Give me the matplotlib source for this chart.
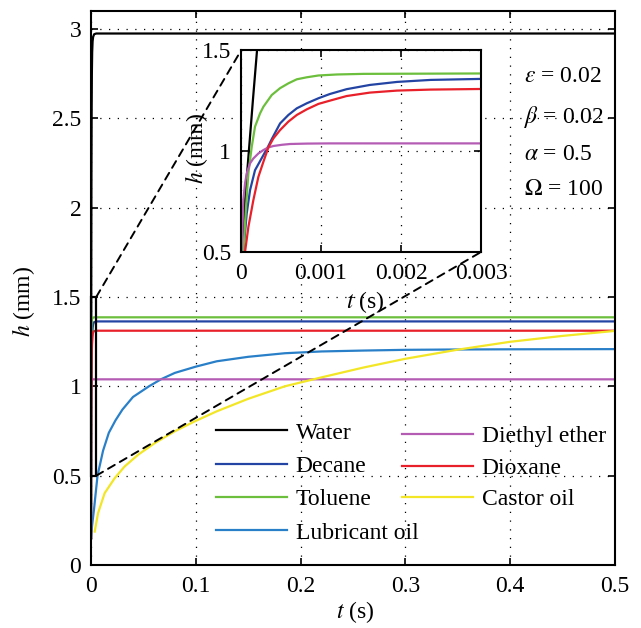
import matplotlib
matplotlib.use("Agg")
import matplotlib.pyplot as plt
from matplotlib.patches import Rectangle, ConnectionPatch

plt.rcParams["font.family"] = "Liberation Serif"
plt.rcParams["mathtext.fontset"] = "stix"
plt.rcParams["font.size"] = 17

# meniscus height h (mm) against time t (s) for each liquid
water_t = [0, 0.00001, 0.00005, 0.0001, 0.00015, 0.0002, 0.0003, 0.0004, 0.0006, 0.0008, 0.0011, 0.0015, 0.002, 0.003, 0.005, 0.5]
water_h = [0.15, 0.5, 0.76, 1.01, 1.26, 1.5, 1.9, 2.2, 2.55, 2.75, 2.87, 2.93, 2.955, 2.97, 2.974, 2.974]

decane_t = [0, 0.000029, 0.000071, 0.000113, 0.000175, 0.00028, 0.000342, 0.000384, 0.000488, 0.000592, 0.000697,
            0.000822, 0.000968, 0.00111, 0.00132, 0.00161, 0.00195, 0.00237, 0.003, 0.006, 0.5]
decane_h = [0.15, 0.5, 0.691, 0.807, 0.906, 0.981, 1.026, 1.06, 1.138, 1.18, 1.213,
            1.238, 1.263, 1.284, 1.308, 1.329, 1.344, 1.354, 1.359, 1.363, 1.363]

toluene_t = [0, 0.000029, 0.000063, 0.000092, 0.000134, 0.000175, 0.000238, 0.00028, 0.000384, 0.000488, 0.000592,
             0.000697, 0.000822, 0.000968, 0.0012, 0.00153, 0.003, 0.5]
toluene_h = [0.15, 0.5, 0.724, 0.891, 1.022, 1.122, 1.188, 1.221, 1.279, 1.313, 1.337,
             1.357, 1.367, 1.376, 1.381, 1.384, 1.386, 1.386]

lubricant_t = [0, 0.001, 0.003, 0.0062, 0.0115, 0.017, 0.0234, 0.03, 0.04, 0.0553, 0.067, 0.08,
               0.1, 0.12, 0.15, 0.185, 0.22, 0.26, 0.3, 0.35, 0.4, 0.5]
lubricant_h = [0.15, 0.22, 0.32, 0.5, 0.64, 0.74, 0.81, 0.87, 0.94, 1.0, 1.04, 1.075,
               1.11, 1.14, 1.165, 1.185, 1.195, 1.2, 1.204, 1.206, 1.207, 1.208]

ether_t = [0, 0.0000083, 0.000029, 0.00005, 0.000071, 0.000113, 0.000154, 0.000217, 0.00028, 0.000342,
           0.000405, 0.000509, 0.000613, 0.000822, 0.00111, 0.5]
ether_h = [0.15, 0.5, 0.757, 0.84, 0.89, 0.94, 0.964, 0.989, 1.006, 1.019,
           1.026, 1.032, 1.036, 1.038, 1.039, 1.039]

dioxane_t = [0, 0.00005, 0.000092, 0.000154, 0.000217, 0.00028, 0.000342, 0.000405, 0.000488, 0.000592, 0.000697,
             0.000822, 0.000968, 0.00111, 0.00132, 0.00161, 0.00195, 0.00237, 0.003, 0.006, 0.5]
dioxane_h = [0.15, 0.5, 0.624, 0.757, 0.873, 0.948, 1.019, 1.064, 1.105, 1.147, 1.18,
             1.208, 1.235, 1.251, 1.274, 1.291, 1.301, 1.306, 1.309, 1.311, 1.311]

castor_t = [0.0035, 0.0067, 0.013, 0.0226, 0.032, 0.0449, 0.0608, 0.0798, 0.099, 0.12, 0.15, 0.185,
            0.22, 0.26, 0.3, 0.35, 0.4, 0.45, 0.5]
castor_h = [0.187, 0.29, 0.402, 0.486, 0.551, 0.617, 0.682, 0.748, 0.804, 0.86, 0.93, 1.0,
            1.05, 1.105, 1.154, 1.205, 1.249, 1.282, 1.31]

series = [
    ("Water", water_t, water_h, "#000000"),
    ("Decane", decane_t, decane_h, "#2444a4"),
    ("Toluene", toluene_t, toluene_h, "#6cbf3c"),
    ("Lubricant oil", lubricant_t, lubricant_h, "#2a80c8"),
    ("Diethyl ether", ether_t, ether_h, "#b45cb4"),
    ("Dioxane", dioxane_t, dioxane_h, "#e8202a"),
    ("Castor oil", castor_t, castor_h, "#f2e626"),
]

params = [r"$\varepsilon$ = 0.02", r"$\beta$ = 0.02", r"$\alpha$ = 0.5", r"$\Omega$ = 100"]
params_y = [0.8774, 0.8137, 0.7532, 0.6975]

grid_style = dict(linestyle=(0, (1, 6)), color="k", linewidth=0.9)


def style_axes(a, xpad, ypad):
    a.tick_params(direction="in", top=True, right=True, length=5, width=1.2)
    a.tick_params(axis="x", pad=xpad)
    a.tick_params(axis="y", pad=ypad)
    a.grid(True, **grid_style)
    for s in a.spines.values():
        s.set_linewidth(1.5)


fig = plt.figure(figsize=(6.41, 6.28), dpi=100)
ax = fig.add_axes([0.142, 0.1003, 0.8174, 0.8822])

handles = []
for name, t, h, c in series:
    ln, = ax.plot(t, h, color=c, linewidth=1.6, label=name)
    handles.append(ln)

ax.set_xlim(0, 0.5)
ax.set_ylim(0, 3.1)
ax.set_xticks([0, 0.1, 0.2, 0.3, 0.4, 0.5])
ax.set_xticklabels(["0", "0.1", "0.2", "0.3", "0.4", "0.5"])
ax.set_yticks([0, 0.5, 1, 1.5, 2, 2.5, 3])
ax.set_yticklabels(["0", "0.5", "1", "1.5", "2", "2.5", "3"])
style_axes(ax, 8, 7)
ax.set_xlabel(r"$t$ (s)")
ax.set_ylabel(r"$h$ (mm)")
ax.xaxis.set_label_coords(0.504, -0.062)
ax.yaxis.set_label_coords(-0.103, 0.475)

# zoom window around the early rise
ax.add_patch(Rectangle((0, 0.5), 0.005, 1.0, fill=False, edgecolor="k",
                       linewidth=1.6, clip_on=False, zorder=4))

leg_kw = dict(frameon=False, handlelength=3.0, handletextpad=0.38,
              borderpad=0, borderaxespad=0, loc="upper left", fontsize=17)
leg1 = ax.legend(handles=handles[:4], bbox_to_anchor=(0.2385, 0.258),
                 labelspacing=0.5, **leg_kw)
ax.add_artist(leg1)
ax.legend(handles=handles[4:], bbox_to_anchor=(0.5935, 0.251),
          labelspacing=0.42, **leg_kw)

for txt, y in zip(params, params_y):
    fig.text(0.8175, y, txt, ha="left", va="center", fontsize=17)

# inset: first 3 ms
axi = fig.add_axes([0.376, 0.5987, 0.3744, 0.3209])
for name, t, h, c in series:
    axi.plot(t, h, color=c, linewidth=1.6)
axi.set_xlim(0, 0.003)
axi.set_ylim(0.5, 1.5)
axi.set_xticks([0, 0.001, 0.002, 0.003])
axi.set_xticklabels(["0", "0.001", "0.002", "0.003"])
axi.set_yticks([0.5, 1, 1.5])
axi.set_yticklabels(["0.5", "1", "1.5"])
style_axes(axi, 8, 7)
axi.set_xlabel(r"$t$ (s)")
axi.set_ylabel(r"$h$ (mm)")
axi.xaxis.set_label_coords(0.517, -0.185)
axi.yaxis.set_label_coords(-0.128, 0.515)

for xa, ya, xb, yb in [(0.005, 1.5, 0, 1), (0.005, 0.5, 1, 0)]:
    con = ConnectionPatch(xyA=(xa, ya), coordsA=ax.transData,
                          xyB=(xb, yb), coordsB=axi.transAxes,
                          linestyle=(0, (4, 3)), color="k", linewidth=1.4, zorder=5)
    fig.add_artist(con)

fig.savefig("out.png", dpi=100)
